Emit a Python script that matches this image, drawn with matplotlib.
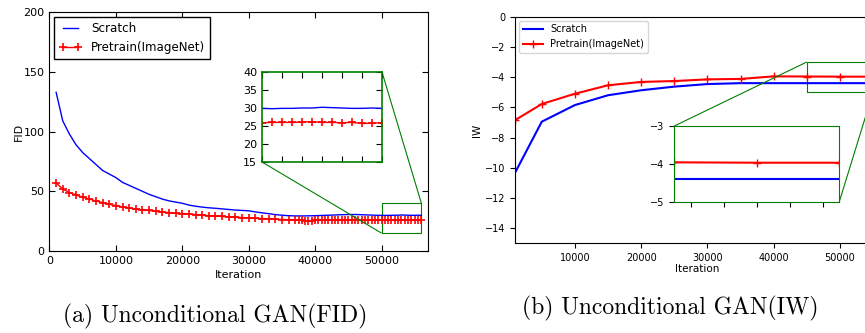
#!/usr/bin/env python3

import matplotlib
matplotlib.use('Agg')
import matplotlib.pyplot as plt
from mpl_toolkits.axes_grid1.inset_locator import mark_inset

# (a) FID, logged every 1000 iterations then every 500
iter_fid = list(range(1000, 37001, 1000)) + list(range(37500, 56001, 500))
fid_scratch = [133, 109, 98, 89, 82.5, 77.5, 72.5, 67.5, 64.5, 61.5, 57.5, 55,
               52.5, 50, 47.5, 45.5, 43.5, 42, 41, 40, 38.5, 37.5, 36.8, 36.2,
               35.8, 35.3, 34.8, 34.3, 34, 33.7, 32.8, 32, 31.3, 30.5, 30, 29.6,
               29.4,
               29.4, 29.4, 29.4, 29.5, 29.5, 29.6, 29.7, 29.8, 29.9, 30, 30.1,
               30.2, 30.3, 30.4, 30.5, 30.6, 30.6, 30.6, 30.5, 30.4, 30.3, 30.2,
               30.1, 30, 29.9, 29.9, 29.8, 29.9, 29.9, 30, 30, 30.2, 30.1, 30,
               29.9, 29.9, 30, 29.9]
fid_pretrain = [57, 52, 49, 47, 45, 43.5, 42, 40.5, 39.2, 38, 37, 36, 35.2, 34.5,
                34, 33.3, 32.7, 32.1, 31.7, 31.3, 31, 30.5, 30, 29.6, 29.3, 29,
                28.6, 28.3, 28, 27.8, 27.5, 27.2, 26.9, 26.6, 26.4, 26.2, 26,
                25.9, 25.8, 25.5, 25.3, 25.5, 25.8, 25.9, 26, 26, 25.9, 26, 26,
                25.9, 26, 26, 25.9, 26, 26, 25.9, 26, 26, 25.9, 26, 25.9,
                25.8, 25.9, 26, 26, 26, 26.1, 26.2, 26, 26, 25.9, 26, 25.7, 25.8,
                25.9]

# (b) IW
iter_iw = [1000, 5000, 10000, 15000, 20000, 25000, 30000, 35000, 40000, 45000,
           50000, 55000]
iw_scratch = [-10.3, -6.95, -5.85, -5.2, -4.87, -4.63, -4.46, -4.4, -4.4, -4.4,
              -4.4, -4.4]
iw_pretrain = [-6.84, -5.78, -5.1, -4.54, -4.32, -4.26, -4.15, -4.12, -3.95,
               -3.96, -3.97, -3.97]

captions = ['(a) Unconditional GAN(FID)', '(b) Unconditional GAN(IW)']


def main():
	fig = plt.figure(figsize=(8.65, 3.33), dpi=100)

	# ---- left: old classic look ----
	ax = fig.add_axes([0.0572, 0.2462, 0.4376, 0.7168])
	ax.plot(iter_fid, fid_scratch, color='b', lw=1.0, label='Scratch')
	ax.plot(iter_fid, fid_pretrain, color='r', lw=1.0, marker='+', ms=6,
	        mew=1.2, label='Pretrain(ImageNet)')
	ax.set_xlim(0, 57000)
	ax.set_ylim(0, 200)
	ax.set_yticks(range(0, 201, 50))
	ax.set_xticks(range(0, 50001, 10000))
	ax.tick_params(direction='in', top=True, right=True, labelsize=8, length=4)
	ax.set_xlabel('Iteration', fontsize=8, labelpad=3)
	ax.set_ylabel('FID', fontsize=8, labelpad=0)
	leg = ax.legend(loc='upper left', fontsize=8.6, fancybox=False, numpoints=2,
	                framealpha=1, edgecolor='k', borderaxespad=0.4,
	                handlelength=1.9)
	leg.get_frame().set_linewidth(1.0)

	axin = fig.add_axes([0.3029, 0.5135, 0.1387, 0.2703])
	axin.plot(iter_fid, fid_scratch, color='b', lw=1.0)
	axin.plot(iter_fid, fid_pretrain, color='r', lw=1.0, marker='+', ms=6, mew=1.2)
	axin.set_xlim(50000, 56000)
	axin.set_ylim(15, 40)
	axin.set_xticks(range(50000, 56001, 1000))
	axin.set_yticks(range(15, 41, 5))
	axin.set_xticklabels([])
	axin.tick_params(direction='in', top=True, right=True, labelsize=8, length=4)
	for sp in axin.spines.values():
		sp.set_color('green')
		sp.set_linewidth(1.2)
	mark_inset(ax, axin, loc1=1, loc2=3, fc='none', ec='green', lw=0.8)

	# ---- right: newer default look ----
	bx = fig.add_axes([0.5957, 0.2694, 0.4213, 0.6805])
	bx.plot(iter_iw, iw_scratch, color='b', lw=1.5, label='Scratch')
	bx.plot(iter_iw, iw_pretrain, color='r', lw=1.5, marker='+', ms=6,
	        label='Pretrain(ImageNet)')
	bx.set_xlim(1000, 56000)
	bx.set_ylim(-15, 0)
	bx.set_yticks(range(-14, 1, 2))
	bx.set_xticks(range(10000, 50001, 10000))
	bx.tick_params(labelsize=7, length=3.5)
	bx.set_xlabel('Iteration', fontsize=7.5, labelpad=1)
	bx.set_ylabel('IW', fontsize=7.5, labelpad=2)
	bx.legend(loc='upper left', fontsize=7, numpoints=1, borderaxespad=0.4)

	bxin = fig.add_axes([0.7795, 0.3943, 0.1908, 0.2273])
	bxin.plot(iter_iw, iw_scratch, color='b', lw=1.5)
	bxin.plot(iter_iw, iw_pretrain, color='r', lw=1.5, marker='+', ms=6)
	bxin.set_xlim(45000, 55000)
	bxin.set_ylim(-5, -3)
	bxin.set_yticks([-5, -4, -3])
	bxin.set_xticks(range(46000, 54001, 2000))
	bxin.set_xticklabels([])
	bxin.tick_params(labelsize=7, length=3.5)
	for sp in bxin.spines.values():
		sp.set_color('green')
	mark_inset(bx, bxin, loc1=2, loc2=4, fc='none', ec='green', lw=0.8)

	fig.text(63 / 865, 1 - 322.5 / 333, captions[0], family='cmr10', fontsize=17,
	         ha='left', va='baseline')
	fig.text(522 / 865, 1 - 314.5 / 333, captions[1], family='cmr10', fontsize=17,
	         ha='left', va='baseline')

	fig.savefig('out.png', dpi=100)


if __name__ == '__main__':
	main()
